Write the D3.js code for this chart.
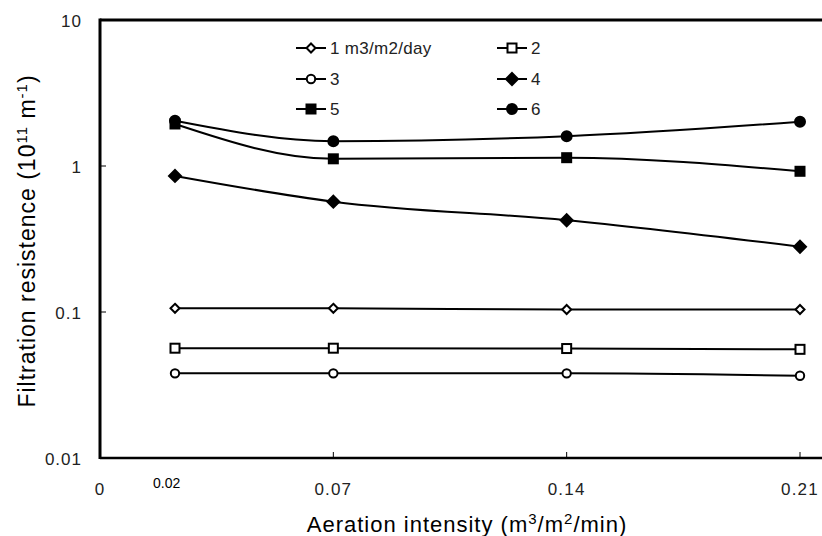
<!DOCTYPE html>
<html><head><meta charset="utf-8">
<script src="https://cdn.jsdelivr.net/npm/d3@7"></script>
<style>body{margin:0;background:#fff}svg{display:block;font-family:"Liberation Sans",Arial,sans-serif}</style>
</head><body><svg id="c" width="822" height="536"></svg>
<script>
const xValues = [0.0225, 0.07, 0.14, 0.21];
const xTickValues = [0, 0.07, 0.14, 0.21];
const xTickLabels = ["0", "0.07", "0.14", "0.21"];
const extraXLabel = {value: 0.02, label: "0.02"};
const yTickValues = [0.01, 0.1, 1, 10];
const yTickLabels = ["0.01", "0.1", "1", "10"];
const seriesNames = ["1 m3/m2/day", "2", "3", "4", "5", "6"];
const s1 = [0.106, 0.106, 0.104, 0.104];
const s2 = [0.0565, 0.0565, 0.0562, 0.0555];
const s3 = [0.038, 0.038, 0.038, 0.0366];
const s4 = [0.855, 0.57, 0.425, 0.28];
const s5 = [1.94, 1.12, 1.14, 0.92];
const s6 = [2.04, 1.48, 1.6, 2.01];
const seriesValues = [s1, s2, s3, s4, s5, s6];
const markers = ["diamond", "square", "circle", "diamond", "square", "circle"];
const filled = [false, false, false, true, true, true];

const svg = d3.select("#c");
const x = d3.scaleLinear().domain([0, 0.21]).range([100, 800]);
const y = d3.scaleLog().domain([0.01, 10]).range([458, 20]);

// axes frame
svg.append("line").attr("x1", 100).attr("x2", 822).attr("y1", 20).attr("y2", 20).attr("stroke", "#000").attr("stroke-width", 3);
svg.append("line").attr("x1", 100).attr("x2", 822).attr("y1", 458).attr("y2", 458).attr("stroke", "#000").attr("stroke-width", 2.5);
svg.append("line").attr("x1", 100).attr("x2", 100).attr("y1", 18.5).attr("y2", 459).attr("stroke", "#000").attr("stroke-width", 3);

// y ticks
yTickValues.forEach((v, i) => {
  if (v > 0.01 && v < 10) {
    svg.append("line").attr("x1", 100).attr("x2", 106).attr("y1", y(v)).attr("y2", y(v)).attr("stroke", "#000").attr("stroke-width", 1);
  }
  svg.append("text").attr("x", 82).attr("y", y(v) + 6.5).attr("text-anchor", "end")
    .attr("font-size", 17).attr("letter-spacing", 1).attr("fill", "#222").text(yTickLabels[i]);
});
// x ticks
xTickValues.forEach((v, i) => {
  if (v > 0) {
    svg.append("line").attr("x1", x(v)).attr("x2", x(v)).attr("y1", 458).attr("y2", 452).attr("stroke", "#000").attr("stroke-width", 1);
  }
  svg.append("text").attr("x", x(v)).attr("y", 495).attr("text-anchor", "middle")
    .attr("font-size", 17).attr("letter-spacing", 1.2).attr("fill", "#222").text(xTickLabels[i]);
});
svg.append("text").attr("x", x(extraXLabel.value)).attr("y", 488).attr("text-anchor", "middle")
  .attr("font-size", 14).attr("fill", "#000").text(extraXLabel.label);

// titles
const xt = svg.append("text").attr("x", 467).attr("y", 532).attr("text-anchor", "middle").attr("font-size", 22).attr("letter-spacing", 1).attr("fill", "#000");
xt.append("tspan").text("Aeration intensity (m");
xt.append("tspan").attr("dy", -8).attr("font-size", 15).text("3");
xt.append("tspan").attr("dy", 8).text("/m");
xt.append("tspan").attr("dy", -8).attr("font-size", 15).text("2");
xt.append("tspan").attr("dy", 8).text("/min)");

const yt = svg.append("text").attr("transform", "translate(35,241) rotate(-90)").attr("text-anchor", "middle").attr("font-size", 23).attr("letter-spacing", 1).attr("fill", "#000");
yt.append("tspan").text("Filtration resistence (10");
yt.append("tspan").attr("dy", -8).attr("font-size", 15).text("11");
yt.append("tspan").attr("dy", 8).text(" m");
yt.append("tspan").attr("dy", -8).attr("font-size", 15).text("-1");
yt.append("tspan").attr("dy", 8).text(")");

function drawMarker(g, type, fill, cx, cy) {
  const fc = fill ? "#000" : "#fff";
  if (type === "diamond") {
    const r = fill ? 6 : 4.5;
    g.append("path").attr("d", `M${cx},${cy - r}L${cx + r},${cy}L${cx},${cy + r}L${cx - r},${cy}Z`)
      .attr("fill", fc).attr("stroke", "#000").attr("stroke-width", 2);
  } else if (type === "square") {
    const h = 4.5;
    g.append("rect").attr("x", cx - h).attr("y", cy - h).attr("width", 2 * h).attr("height", 2 * h)
      .attr("fill", fc).attr("stroke", "#000").attr("stroke-width", 2);
  } else {
    const r = fill ? 5 : 4.2;
    g.append("circle").attr("cx", cx).attr("cy", cy).attr("r", r)
      .attr("fill", fc).attr("stroke", "#000").attr("stroke-width", 2);
  }
}

const line = d3.line().x((d, i) => x(xValues[i])).y(d => y(d)).curve(d3.curveMonotoneX);
seriesValues.forEach((vals, si) => {
  const g = svg.append("g");
  g.append("path").attr("d", line(vals)).attr("fill", "none").attr("stroke", "#000").attr("stroke-width", 2);
  vals.forEach((v, i) => drawMarker(g, markers[si], filled[si], x(xValues[i]), y(v)));
});

// legend
const legX = [296, 497];
const legY = [48, 79, 109];
seriesNames.forEach((name, i) => {
  const col = i % 2, row = Math.floor(i / 2);
  const lx = legX[col], ly = legY[row];
  const g = svg.append("g");
  g.append("line").attr("x1", lx).attr("x2", lx + 30).attr("y1", ly).attr("y2", ly).attr("stroke", "#000").attr("stroke-width", 2);
  drawMarker(g, markers[i], filled[i], lx + 15, ly);
  g.append("text").attr("x", lx + 34).attr("y", ly + 6).attr("font-size", 17).attr("letter-spacing", 0.3).attr("fill", "#222").text(name);
});
</script></body></html>
